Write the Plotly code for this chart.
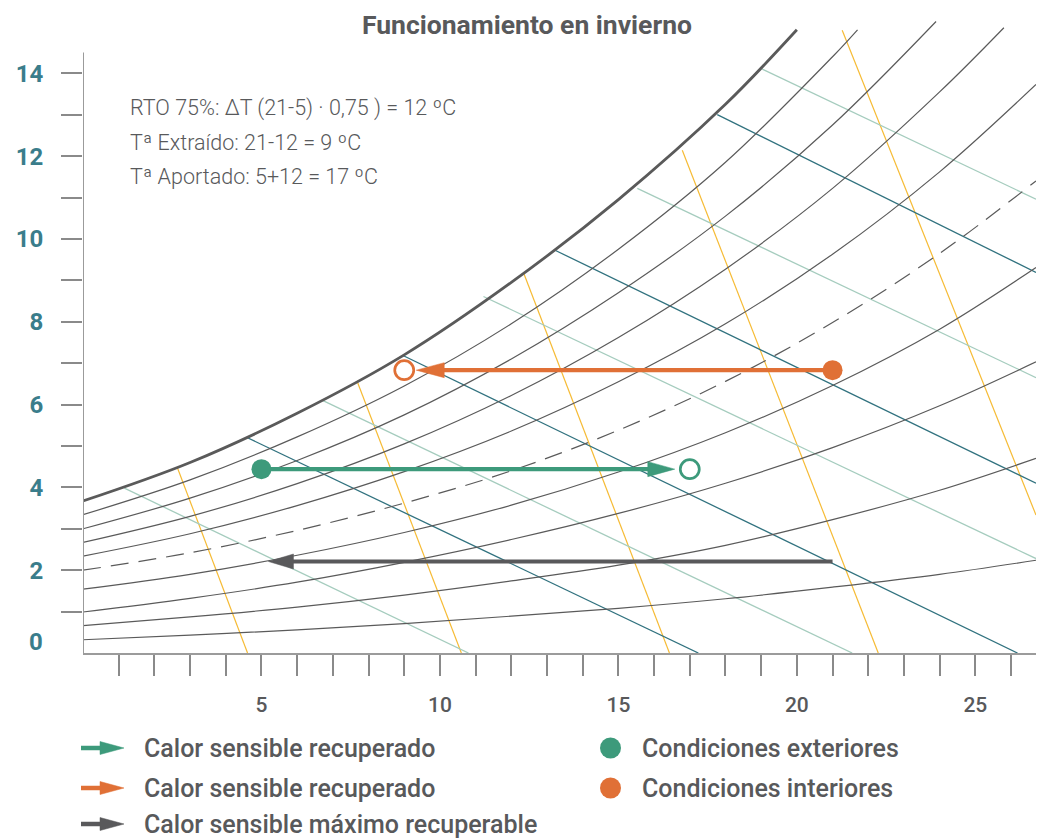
import plotly.graph_objects as go

# ---------------- data ----------------
# relative-humidity curves: temperature (°C) -> humidity ratio (g/kg)
T_STD = [0, 3, 6, 9, 12, 15, 18, 21, 24, 26.7]
rh10 = [0.32, 0.43, 0.56, 0.71, 0.89, 1.08, 1.31, 1.59, 1.90, 2.24]
rh20 = [0.66, 0.87, 1.11, 1.40, 1.74, 2.12, 2.60, 3.22, 3.93, 4.70]
rh30 = [0.99, 1.32, 1.71, 2.19, 2.74, 3.37, 4.10, 4.96, 5.97, 7.03]
rh40 = [1.54, 1.90, 2.36, 2.91, 3.57, 4.37, 5.32, 6.46, 7.82, 9.31]
rh50 = [2.00, 2.42, 2.96, 3.62, 4.40, 5.38, 6.56, 7.98, 9.65, 11.40]
rh60 = [2.34, 2.88, 3.56, 4.38, 5.36, 6.55, 7.95, 9.63, 11.62, 13.73]
rh70_T = [0, 3, 6, 9, 12, 15, 18, 21, 24, 25.8]
rh70 = [2.67, 3.30, 4.09, 5.05, 6.22, 7.62, 9.27, 11.22, 13.55, 15.10]
rh80_T = [0, 3, 6, 9, 12, 15, 18, 21, 23.9]
rh80 = [3.00, 3.74, 4.65, 5.75, 7.10, 8.70, 10.55, 12.75, 15.25]
rh90_T = [0, 3, 6, 9, 12, 15, 18, 21, 21.7]
rh90 = [3.34, 4.18, 5.22, 6.45, 7.95, 9.75, 11.85, 14.40, 15.05]
sat_T = [0, 3, 6, 9, 12, 15, 18, 20.0]
sat = [3.67, 4.60, 5.79, 7.20, 8.95, 10.95, 13.25, 15.05]

# enthalpy lines (dark / light teal) and yellow lines: endpoints
dark_T = [(4.58, 17.24), (8.95, 26.18), (13.24, 26.7), (17.77, 26.7)]
dark_W = [(5.21, 0.0), (7.19, 0.0), (9.72, 4.10), (13.00, 9.19)]
light_T = [(1.16, 10.80), (6.71, 21.55), (11.22, 26.7), (15.53, 26.7), (19.03, 26.7)]
light_W = [(3.98, 0.0), (6.10, 0.0), (8.61, 2.28), (11.22, 6.65), (14.10, 10.96)]
yel_T = [(2.65, 4.61), (7.69, 10.60), (12.34, 16.43), (16.79, 22.28), (21.27, 26.7)]
yel_W = [(4.46, 0.0), (6.54, 0.0), (9.19, 0.0), (12.14, 0.0), (15.04, 3.33)]

# process
T_ext, T_int = 5, 21
T_extraido, T_aportado = 9, 17
W_ext, W_int, W_max = 4.44, 6.83, 2.21

x_ticks = list(range(1, 27))
x_labels = [5, 10, 15, 20, 25]
y_ticks = list(range(1, 15))
y_labels = [2, 4, 6, 8, 10, 12, 14]

title = "Funcionamiento en invierno"
notes = ["RTO 75%: ΔT (21-5) · 0,75 ) = 12 ºC",
         "Tª Extraído: 21-12 = 9 ºC",
         "Tª Aportado: 5+12 = 17 ºC"]
legend_arrows = ["Calor sensible recuperado", "Calor sensible recuperado",
                 "Calor sensible máximo recuperable"]
legend_points = ["Condiciones exteriores", "Condiciones interiores"]

# ---------------- style ----------------
OFF = 8  # page margin of the html body
W, H = 1038, 832
ML, MR, MT, MB = 75, 10, 4, 187
X_MAX, Y_MAX = 26.7, 15.48
XPU = (W - ML - MR) / X_MAX
YPU = (H - MT - MB) / Y_MAX

GREEN = "#3d9a7b"
ORANGE = "#e07036"
DGRAY = "#59595b"
CURVE = "#5a5a5a"
DTEAL = "#31727f"
LTEAL = "#a5ccbe"
YELLOW = "#f6bb35"
TEXT = "#58595b"
YLAB = "#3a7d8b"
FONT = "Roboto"


def pxx(px):
    """screen pixel x -> paper x"""
    return (px - OFF - ML) / (W - ML - MR)


def pxy(py):
    """screen pixel y -> paper y"""
    return (H - MB - (py - OFF)) / (H - MT - MB)


fig = go.Figure()

# grid lines
for Ts, Ws in zip(yel_T, yel_W):
    fig.add_trace(go.Scatter(x=list(Ts), y=list(Ws), mode="lines",
                             line=dict(color=YELLOW, width=1.2), hoverinfo="skip"))
for Ts, Ws in zip(light_T, light_W):
    fig.add_trace(go.Scatter(x=list(Ts), y=list(Ws), mode="lines",
                             line=dict(color=LTEAL, width=1.3), hoverinfo="skip"))
for Ts, Ws in zip(dark_T, dark_W):
    fig.add_trace(go.Scatter(x=list(Ts), y=list(Ws), mode="lines",
                             line=dict(color=DTEAL, width=1.3), hoverinfo="skip"))

curves = [(T_STD, rh10, None), (T_STD, rh20, None), (T_STD, rh30, None),
          (T_STD, rh40, None), (T_STD, rh50, "18px,10px"), (T_STD, rh60, None),
          (rh70_T, rh70, None), (rh80_T, rh80, None), (rh90_T, rh90, None)]
for Ts, Ws, dash in curves:
    fig.add_trace(go.Scatter(x=Ts, y=Ws, mode="lines",
                             line=dict(color=CURVE, width=1.2, shape="spline",
                                       dash=dash if dash else "solid"),
                             hoverinfo="skip"))
fig.add_trace(go.Scatter(x=sat_T, y=sat, mode="lines",
                         line=dict(color=CURVE, width=2.8, shape="spline"),
                         hoverinfo="skip"))


def arrow(x_from, x_to, y, color, tip_gap_px, head_len_px, head_h_px):
    d = 1 if x_to > x_from else -1
    tip = x_to - d * tip_gap_px / XPU
    base = tip - d * head_len_px / XPU
    fig.add_trace(go.Scatter(x=[x_from, base + d * 4 / XPU], y=[y, y], mode="lines",
                             line=dict(color=color, width=4.2), hoverinfo="skip"))
    hh = head_h_px / 2 / YPU
    fig.add_trace(go.Scatter(x=[tip, base, base, tip], y=[y, y + hh, y - hh, y],
                             mode="lines", fill="toself", fillcolor=color,
                             line=dict(color=color, width=0.5), hoverinfo="skip"))


arrow(T_ext, T_aportado, W_ext, GREEN, 15, 27, 15)
arrow(T_int, T_extraido, W_int, ORANGE, 12, 28, 15)
arrow(T_int, T_ext, W_max, DGRAY, 7, 25, 15)

# state points
fig.add_trace(go.Scatter(x=[T_ext], y=[W_ext], mode="markers",
                         marker=dict(size=20, color=GREEN), hoverinfo="skip"))
fig.add_trace(go.Scatter(x=[T_aportado], y=[W_ext], mode="markers",
                         marker=dict(size=19, color="white",
                                     line=dict(color=GREEN, width=2.7)), hoverinfo="skip"))
fig.add_trace(go.Scatter(x=[T_int], y=[W_int], mode="markers",
                         marker=dict(size=20, color=ORANGE), hoverinfo="skip"))
fig.add_trace(go.Scatter(x=[T_extraido], y=[W_int], mode="markers",
                         marker=dict(size=19, color="white",
                                     line=dict(color=ORANGE, width=2.7)), hoverinfo="skip"))

shapes = [dict(type="line", xref="x", yref="y", x0=0, x1=0, y0=0, y1=14.5,
               line=dict(color="#9b9b9b", width=2))]
annotations = []

# title
annotations.append(dict(xref="paper", yref="paper", x=pxx(527), y=pxy(25),
                        text=title, showarrow=False, xanchor="center", yanchor="middle",
                        font=dict(family=FONT, size=26.5, color=TEXT, weight="bold")))
# notes
for i, t in enumerate(notes):
    annotations.append(dict(xref="paper", yref="paper", x=pxx(128), y=pxy(108 + 34.5 * i),
                            text=t, showarrow=False, xanchor="left", yanchor="middle",
                            font=dict(family=FONT, size=21.5, color=TEXT, weight=300)))
# "0" label on y axis
annotations.append(dict(xref="paper", yref="y", x=pxx(45), y=0.26, text="0",
                        showarrow=False, xanchor="right", yanchor="middle",
                        font=dict(family=FONT, size=24, color=YLAB, weight="bold")))

# legend
rows = [748, 788, 824]
for py, col, txt in zip(rows, [GREEN, ORANGE, DGRAY], legend_arrows):
    shapes.append(dict(type="line", xref="paper", yref="paper",
                       x0=pxx(81), x1=pxx(104), y0=pxy(py), y1=pxy(py),
                       line=dict(color=col, width=4.5)))
    shapes.append(dict(type="path", xref="paper", yref="paper",
                       path=f"M {pxx(100)},{pxy(py - 6.5)} L {pxx(124)},{pxy(py)} "
                            f"L {pxx(100)},{pxy(py + 6.5)} Z",
                       fillcolor=col, line=dict(color=col, width=0.5)))
    annotations.append(dict(xref="paper", yref="paper", x=pxx(143), y=pxy(py),
                            text=txt, showarrow=False, xanchor="left", yanchor="middle",
                            borderpad=0,
                            font=dict(family=FONT, size=25, color=TEXT, weight=500)))
for py, col, txt in zip(rows[:2], [GREEN, ORANGE], legend_points):
    shapes.append(dict(type="circle", xref="paper", yref="paper",
                       x0=pxx(600), x1=pxx(621), y0=pxy(py - 10.5), y1=pxy(py + 10.5),
                       fillcolor=col, line=dict(width=0)))
    annotations.append(dict(xref="paper", yref="paper", x=pxx(641), y=pxy(py),
                            text=txt, showarrow=False, xanchor="left", yanchor="middle",
                            borderpad=0,
                            font=dict(family=FONT, size=25, color=TEXT, weight=500)))

fig.update_layout(
    width=W, height=H, margin=dict(l=ML, r=MR, t=MT, b=MB),
    plot_bgcolor="white", paper_bgcolor="white", showlegend=False,
    shapes=shapes, annotations=annotations,
    xaxis=dict(range=[0, X_MAX], showgrid=False, zeroline=False,
               showline=True, linecolor="#9b9b9b", linewidth=2,
               ticks="outside", ticklen=21, tickwidth=1.5, tickcolor="#8a8a8a",
               tickvals=x_ticks,
               ticktext=[str(v) if v in x_labels else "" for v in x_ticks],
               tickfont=dict(family=FONT, size=21, color=TEXT, weight=500),
               ticklabelstandoff=11, fixedrange=True),
    yaxis=dict(range=[0, Y_MAX], showgrid=False, zeroline=False, showline=False,
               ticks="outside", ticklen=21, tickwidth=1.5, tickcolor="#8a8a8a",
               tickvals=y_ticks,
               ticktext=[str(v) if v in y_labels else "" for v in y_ticks],
               tickfont=dict(family=FONT, size=24, color=YLAB, weight="bold"),
               ticklabelstandoff=13, fixedrange=True),
)

fig.write_html("out.html")
